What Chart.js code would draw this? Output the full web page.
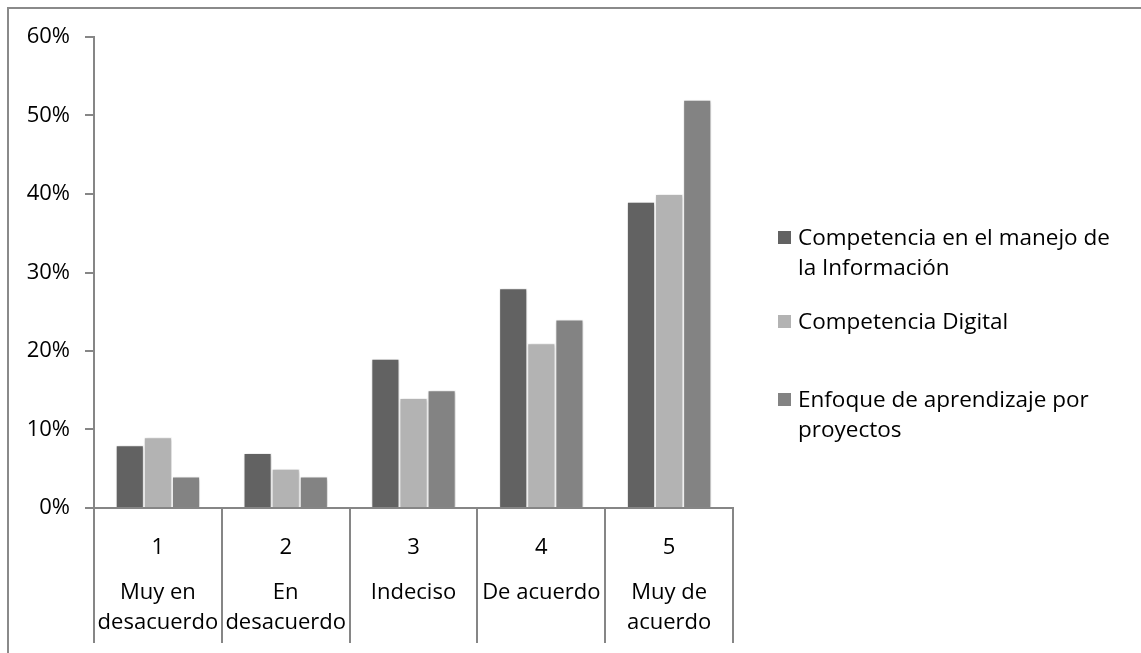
<!DOCTYPE html>
<html>
<head>
<meta charset="utf-8">
<script src="https://cdn.jsdelivr.net/npm/chart.js@4"></script>
<style>
  html, body { margin:0; padding:0; background:#fff; }
  #wrap { position:relative; width:1141px; height:653px; overflow:hidden; }
  #frame { position:absolute; left:7px; top:7px; width:1200px; height:700px; border:2px solid #8a8a8a; box-sizing:border-box; }
  canvas { position:absolute; left:0; top:0; }
  #legend { position:absolute; left:778px; top:222px; font-family:"Open Sans", sans-serif; font-size:22.5px; color:#000; line-height:30px; }
  .item { position:absolute; padding-left:20px; width:350px; white-space:nowrap; }
  .sw { position:absolute; left:0; top:9px; width:13px; height:13px; }
</style>
</head>
<body>
<div id="wrap">
  <div id="frame"></div>
  <canvas id="chart" width="1141" height="653"></canvas>
  <div id="legend"></div>
</div>
<script>
/* ==== Data ==== */
const categories = ['1', '2', '3', '4', '5'];
const categoryNames = [['Muy en', 'desacuerdo'], ['En', 'desacuerdo'], ['Indeciso'], ['De acuerdo'], ['Muy de', 'acuerdo']];
const seriesNames = ['Competencia en el manejo de la Información', 'Competencia Digital', 'Enfoque de aprendizaje por proyectos'];
const infoValues = [0.08, 0.07, 0.19, 0.28, 0.39];
const digitalValues = [0.09, 0.05, 0.14, 0.21, 0.40];
const projectValues = [0.04, 0.04, 0.15, 0.24, 0.52];
const yTicks = [0, 0.1, 0.2, 0.3, 0.4, 0.5, 0.6];

const colors = ['#626262', '#b3b3b3', '#838383'];
const legendLines = [['Competencia en el manejo de', 'la Información'], ['Competencia Digital'], ['Enfoque de aprendizaje por', 'proyectos']];
const FONT = '"Open Sans", sans-serif';
const AXIS = '#868686';

/* ==== Plugins ==== */
const barShadow = {
  id: 'barShadow',
  beforeDatasetsDraw(chart){
    const ctx = chart.ctx;
    ctx.save();
    ctx.shadowColor = 'rgba(0,0,0,0.22)';
    ctx.shadowBlur = 4;
    ctx.shadowOffsetX = 1;
    ctx.shadowOffsetY = 1;
  },
  afterDatasetsDraw(chart){ chart.ctx.restore(); }
};

const xLabels = {
  id: 'xLabels',
  afterDraw(chart){
    const ctx = chart.ctx;
    const x = chart.scales.x;
    ctx.save();
    ctx.font = '22px ' + FONT;
    ctx.fillStyle = '#000';
    ctx.textAlign = 'center';
    ctx.textBaseline = 'middle';
    categories.forEach((c, i) => {
      const px = x.getPixelForValue(i);
      ctx.fillText(c, px, 548);
      categoryNames[i].forEach((line, j) => ctx.fillText(line, px, 593 + j * 30));
    });
    ctx.restore();
  }
};

/* ==== Chart ==== */
const ctx = document.getElementById('chart').getContext('2d');
const chart = new Chart(ctx, {
  type: 'bar',
  data: {
    labels: categories,
    datasets: [infoValues, digitalValues, projectValues].map((vals, i) => ({
      label: seriesNames[i],
      data: vals,
      backgroundColor: colors[i],
      borderColor: 'rgba(255,255,255,0.85)',
      borderWidth: 1,
      categoryPercentage: 0.66,
      barPercentage: 1
    }))
  },
  options: {
    responsive: false,
    animation: false,
    layout: { padding: { left: 0, top: 37, right: 408, bottom: 0 } },
    plugins: { legend: { display: false }, tooltip: { enabled: false } },
    scales: {
      x: {
        afterFit(s){ s.height = 145; },
        grid: { offset: true, drawOnChartArea: false, drawTicks: true, tickLength: 135, color: AXIS, lineWidth: 2 },
        border: { color: AXIS, width: 2 },
        ticks: { display: false }
      },
      y: {
        min: 0, max: 0.6,
        afterFit(s){ s.width = 94; },
        afterBuildTicks(s){ s.ticks = yTicks.map(v => ({ value: v })); },
        grid: { drawOnChartArea: false, tickLength: 9, color: AXIS, lineWidth: 2 },
        border: { color: AXIS, width: 2 },
        ticks: {
          padding: 15,
          color: '#000',
          font: { family: FONT, size: 22 },
          callback: v => Math.round(v * 100) + '%'
        }
      }
    }
  },
  plugins: [barShadow, xLabels]
});

/* ==== Legend ==== */
const legend = document.getElementById('legend');
const itemTops = [0, 84, 162];
legendLines.forEach((lines, i) => {
  const div = document.createElement('div');
  div.className = 'item';
  div.style.top = itemTops[i] + 'px';
  div.innerHTML = '<span class="sw" style="background:' + colors[i] + '"></span>' + lines.join('<br>');
  legend.appendChild(div);
});
</script>
</body>
</html>
